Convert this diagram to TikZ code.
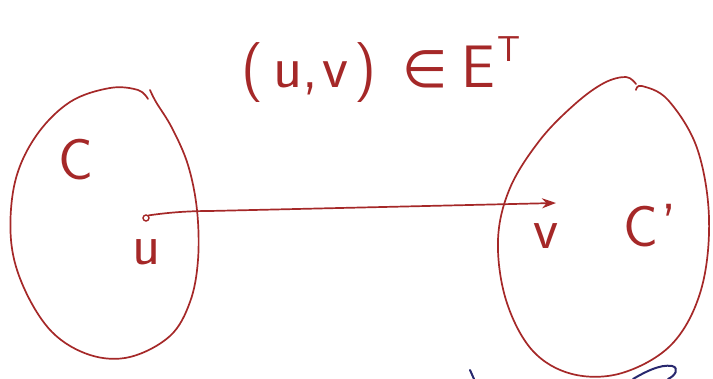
\documentclass[tikz,border=0pt]{standalone}
\usepackage{fontspec}
\newfontfamily\symfont{DejaVu Sans}
\usetikzlibrary{arrows.meta}
\definecolor{ink}{RGB}{165,40,40}
\definecolor{blueink}{RGB}{40,40,110}
\begin{document}
\begin{tikzpicture}[x=1pt,y=-1pt,
  stroke/.style={draw=ink, line width=1.7pt, line cap=round, line join=round},
  lbl/.style={text=ink, inner sep=0pt, font=\fontsize{58}{62}\selectfont\sffamily}]
\useasboundingbox (0,0) rectangle (713,379);
\fill[white] (0,0) rectangle (713,379);
% left cluster C
\draw[stroke] plot[smooth, tension=0.6] coordinates {
  (150,90) (156,102) (172,128) (188,165) (197,210) (198,260) (190,302)
  (170,336) (130,357) (90,355) (52,332) (24,288) (11,240) (15,182)
  (36,136) (70,102) (110,88) (138,90) (148,99)};
% right cluster C'
\draw[stroke] plot[smooth, tension=0.6] coordinates {
  (636,90) (642,86) (668,100) (697,148) (709,218) (701,290) (672,344)
  (622,373) (572,374) (532,350) (506,300) (498,240) (510,188) (540,140)
  (575,104) (604,83) (626,77) (636,84)};
% vertices
\node[circle, draw=ink, line width=1.4pt, inner sep=0pt, minimum size=6pt] (u) at (146,218) {};
\coordinate (v) at (556,203);
\draw[stroke, -{Stealth[length=14pt,width=10pt]}] (u.north east) .. controls (165,213) and (185,211) .. (210,211) -- (v);
% labels
\node[lbl] (lu) at (147,252) {u};
\node[lbl] (lv) at (546,236) {v};
\node[lbl] (lC) at (76,160) {C};
\node[lbl] (lCp) at (650,226) {C\kern3pt\raisebox{2pt}{'}};
\node[lbl, font=\fontsize{60}{64}\selectfont\sffamily] (title) at (381,70) {(\kern10pt u,\kern4pt v\kern6pt)\hspace{26pt}{\symfont\fontsize{52}{56}\selectfont ∈}\hspace{14pt}E\kern2pt\raisebox{26pt}{\fontsize{36}{38}\selectfont T}};
% partial strokes of next line (blue)
\draw[draw=blueink, line width=2pt, line cap=round] (470,370) -- (474,379);
\draw[draw=blueink, line width=2pt, line cap=round] (633,379) .. controls (645,372) and (660,364) .. (672,366) .. controls (680,368) and (675,376) .. (668,379);
\end{tikzpicture}
\end{document}
